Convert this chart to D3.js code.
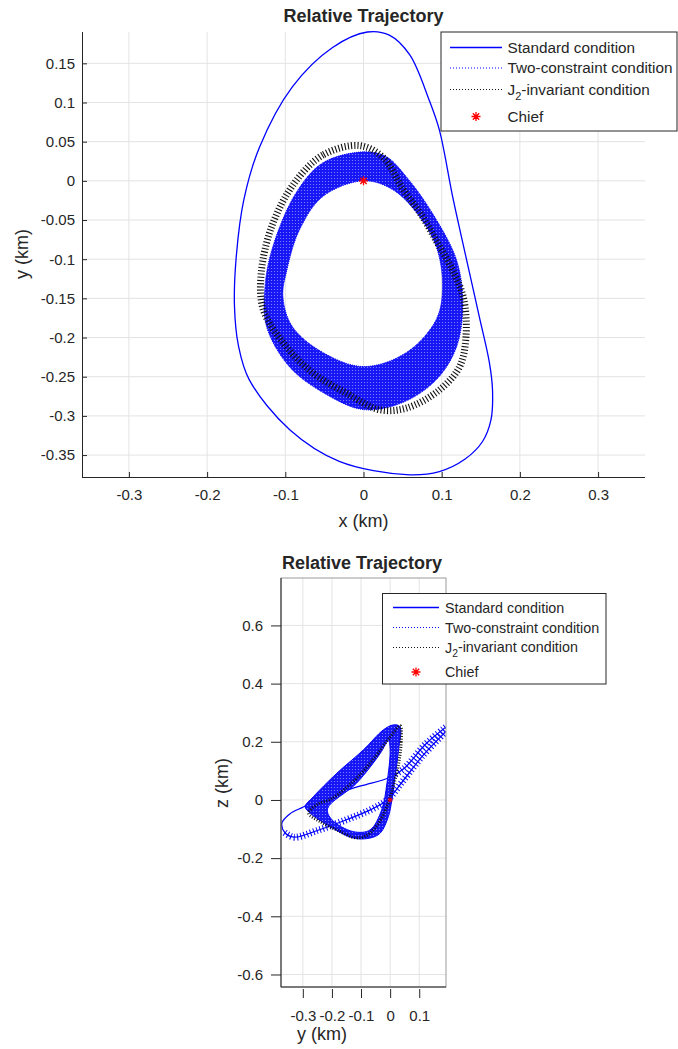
<!DOCTYPE html>
<html>

<head>
    <title>Relative Trajectory</title>
    <script src="https://cdn.jsdelivr.net/npm/d3@7"></script>
    <style>
        body { margin: 0; background: #fff; }
        text { font-family: 'Liberation Sans', Arial, sans-serif; fill: #262626; }
    </style>
</head>

<body>
    <svg width="678" height="1049" id="mainsvg"></svg>
    <script>
        // ---- data (km) ----
        const xTicks = [-0.3, -0.2, -0.1, 0, 0.1, 0.2, 0.3];
        const yTicks = [-0.35, -0.3, -0.25, -0.2, -0.15, -0.1, -0.05, 0, 0.05, 0.1, 0.15];
        const yTicksB = [-0.3, -0.2, -0.1, 0, 0.1];
        const zTicks = [-0.6, -0.4, -0.2, 0, 0.2, 0.4, 0.6];
        const legendLabels = ['Standard condition', 'Two-constraint condition', 'J2-invariant condition', 'Chief'];

        // x-y plane
        const standardXY = [[0.005, 0.19], [0.033, 0.186], [0.059, 0.161], [0.084, 0.103], [0.097, 0.065], [0.114, -0.02],
            [0.131, -0.097], [0.148, -0.173], [0.161, -0.232], [0.165, -0.267], [0.163, -0.305], [0.152, -0.333],
            [0.13, -0.355], [0.097, -0.371], [0.055, -0.375], [-0.031, -0.358], [-0.094, -0.318], [-0.146, -0.254],
            [-0.16, -0.21], [-0.165, -0.16], [-0.163, -0.1], [-0.153, -0.024], [-0.133, 0.043], [-0.091, 0.12],
            [-0.04, 0.17]];
        const twoConOuterXY = [[0, 0.037], [-0.052, 0.023], [-0.086, -0.015], [-0.116, -0.084], [-0.126, -0.135],
            [-0.124, -0.186], [-0.095, -0.237], [-0.052, -0.27], [0, -0.292], [0.05, -0.283], [0.093, -0.254],
            [0.119, -0.212], [0.127, -0.156], [0.119, -0.101], [0.088, -0.041], [0.055, 0.005], [0.029, 0.031]];
        const twoConInnerXY = [[0, 0], [-0.052, -0.02], [-0.082, -0.063], [-0.098, -0.114], [-0.103, -0.148],
            [-0.091, -0.186], [-0.052, -0.219], [0, -0.237], [0.055, -0.219], [0.093, -0.177], [0.101, -0.135],
            [0.093, -0.084], [0.068, -0.041], [0.037, -0.011]];
        const j2OuterXY = [[-0.005, 0.045], [-0.052, 0.033], [-0.09, -0.005], [-0.118, -0.06], [-0.131, -0.12],
            [-0.128, -0.165], [-0.1, -0.21], [-0.065, -0.245], [-0.02, -0.272], [0.02, -0.292], [0.055, -0.29],
            [0.097, -0.267], [0.123, -0.237], [0.131, -0.2], [0.128, -0.15], [0.112, -0.11], [0.095, -0.08],
            [0.075, -0.045], [0.05, -0.01], [0.025, 0.03]];

        // y-z plane
        const standardYZ = [[0.191, 0.25], [0.12, 0.19], [0.05, 0.11], [0.0, 0.078], [-0.1, 0.048], [-0.22, 0.012],
            [-0.3, -0.025], [-0.345, -0.048], [-0.372, -0.08], [-0.362, -0.112], [-0.33, -0.128], [-0.25, -0.105],
            [-0.15, -0.068], [-0.07, -0.035], [-0.01, 0.0], [0.04, 0.06], [0.11, 0.15], [0.191, 0.235]];
        const twoConOuterYZ = [[0.011, 0.258], [0.034, 0.252], [0.029, 0.172], [0.017, 0.08], [0.006, 0],
            [-0.006, -0.057], [-0.034, -0.114], [-0.069, -0.131], [-0.126, -0.131], [-0.206, -0.092],
            [-0.275, -0.045], [-0.292, -0.023], [-0.264, 0.011], [-0.183, 0.092], [-0.092, 0.172], [-0.023, 0.241]];
        const twoConInnerYZ = [[-0.006, 0.205], [0, 0.172], [-0.011, 0.057], [-0.029, -0.034], [-0.069, -0.103],
            [-0.126, -0.109], [-0.2, -0.068], [-0.215, -0.03], [-0.115, 0.058], [-0.034, 0.16]];
        const j2YZ = [[0.035, 0.255], [0.038, 0.2], [0.03, 0.13], [0.012, 0.05], [-0.01, -0.02], [-0.04, -0.08],
            [-0.08, -0.122], [-0.12, -0.13], [-0.18, -0.105], [-0.24, -0.075], [-0.28, -0.045], [-0.25, -0.015],
            [-0.2, 0.005], [-0.12, 0.07], [-0.05, 0.15], [-0.005, 0.21]];
        const chief = [0, 0];

        const svg = d3.select('svg');
        const BLUE = '#0000ff';
        const AX = '#262626';
        const GRID = '#e3e3e3';
        const TICKFS = 15;

        // asterisk like MATLAB '*'
        const star = (cx, cy, r) => {
            const d = r * 0.7071;
            return `M${cx - r},${cy}H${cx + r}M${cx},${cy - r}V${cy + r}` +
                `M${cx - d},${cy - d}L${cx + d},${cy + d}M${cx - d},${cy + d}L${cx + d},${cy - d}`;
        };

        const defs = svg.append('defs');
        const pat = defs.append('pattern').attr('id', 'weave').attr('patternUnits', 'userSpaceOnUse')
            .attr('width', 3).attr('height', 3);
        pat.append('rect').attr('width', 3).attr('height', 3).attr('fill', '#1616f6');
        pat.append('circle').attr('cx', 1.5).attr('cy', 1.5).attr('r', 0.6).attr('fill', '#fff').attr('opacity', 0.5);

        // ================= top plot: x-y =================
        const x = d3.scaleLinear().domain([-0.36, 0.36]).range([82, 645]);
        const y = d3.scaleLinear().domain([-0.378, 0.19]).range([477, 32]);

        defs.append('clipPath').attr('id', 'clipTop').append('rect')
            .attr('x', 82).attr('y', 30).attr('width', 563).attr('height', 447);

        const gTop = svg.append('g');
        gTop.selectAll('.gx').data(xTicks).join('line').attr('class', 'gx')
            .attr('x1', d => x(d)).attr('x2', d => x(d)).attr('y1', 32).attr('y2', 477)
            .attr('stroke', GRID);
        gTop.selectAll('.gy').data(yTicks).join('line').attr('class', 'gy')
            .attr('x1', 82).attr('x2', 645).attr('y1', d => y(d)).attr('y2', d => y(d))
            .attr('stroke', GRID);

        const lineXY = d3.line().x(d => x(d[0])).y(d => y(d[1])).curve(d3.curveCatmullRomClosed.alpha(0.5));
        const plotTop = gTop.append('g').attr('clip-path', 'url(#clipTop)');

        plotTop.append('path').attr('d', lineXY(standardXY)).attr('fill', 'none')
            .attr('stroke', BLUE).attr('stroke-width', 1.3);
        plotTop.append('path').attr('d', lineXY(twoConOuterXY) + lineXY(twoConInnerXY))
            .attr('fill', 'url(#weave)').attr('fill-rule', 'evenodd')
            .attr('stroke', BLUE).attr('stroke-width', 1).attr('stroke-dasharray', '1 1');
        plotTop.append('path').attr('d', lineXY(j2OuterXY)).attr('fill', 'none')
            .attr('stroke', '#111').attr('stroke-width', 7).attr('stroke-dasharray', '1.1 2.1');
        plotTop.append('path').attr('d', star(x(chief[0]), y(chief[1]), 4.5))
            .attr('stroke', 'red').attr('stroke-width', 1.3).attr('fill', 'none');

        const xAxis = d3.axisBottom(x).tickValues(xTicks).tickFormat(d => String(d))
            .tickSizeInner(-5).tickSizeOuter(0).tickPadding(12);
        const gx = gTop.append('g').attr('transform', 'translate(0,477)').call(xAxis);
        const yAxis = d3.axisLeft(y).tickValues(yTicks).tickFormat(d => String(d))
            .tickSizeInner(-5).tickSizeOuter(0).tickPadding(7);
        const gy = gTop.append('g').attr('transform', 'translate(82,0)').call(yAxis);
        gx.select('.domain').attr('d', 'M82,0.5H645');
        gy.select('.domain').attr('d', 'M0.5,32V477');
        [gx, gy].forEach(g => {
            g.selectAll('.domain, line').attr('stroke', AX);
            g.selectAll('text').attr('font-size', TICKFS).attr('fill', AX)
                .attr('font-family', "'Liberation Sans', Arial, sans-serif");
        });

        gTop.append('text').attr('x', 363.5).attr('y', 22).attr('text-anchor', 'middle')
            .attr('font-weight', 'bold').attr('font-size', 18).text('Relative Trajectory');
        gTop.append('text').attr('x', 363.5).attr('y', 527).attr('text-anchor', 'middle')
            .attr('font-size', 18).text('x (km)');
        gTop.append('text').attr('transform', 'translate(28,254) rotate(-90)').attr('text-anchor', 'middle')
            .attr('font-size', 18).text('y (km)');

        // ================= bottom plot: y-z =================
        const yb = d3.scaleLinear().domain([-0.375, 0.192]).range([281, 446]);
        const z = d3.scaleLinear().domain([-0.643, 0.763]).range([987, 578]);

        defs.append('clipPath').attr('id', 'clipBot').append('rect')
            .attr('x', 281).attr('y', 578).attr('width', 165).attr('height', 409);

        const gBot = svg.append('g');
        gBot.selectAll('.gx').data(yTicksB).join('line').attr('class', 'gx')
            .attr('x1', d => yb(d)).attr('x2', d => yb(d)).attr('y1', 578).attr('y2', 987)
            .attr('stroke', GRID);
        gBot.selectAll('.gy').data(zTicks).join('line').attr('class', 'gy')
            .attr('x1', 281).attr('x2', 446).attr('y1', d => z(d)).attr('y2', d => z(d))
            .attr('stroke', GRID);

        const lineYZc = d3.line().x(d => yb(d[0])).y(d => z(d[1])).curve(d3.curveCatmullRomClosed.alpha(0.5));
        const lineYZ = d3.line().x(d => yb(d[0])).y(d => z(d[1])).curve(d3.curveCatmullRom.alpha(0.5));
        const plotBot = gBot.append('g').attr('clip-path', 'url(#clipBot)');

        plotBot.append('path').attr('d', lineYZ(standardYZ)).attr('fill', 'none')
            .attr('stroke', BLUE).attr('stroke-width', 1.3);
        // sampled marks along the lower run and the upper-right run of the standard orbit
        [standardYZ.slice(9), standardYZ.slice(0, 4)].forEach(seg => {
            plotBot.append('path').attr('d', lineYZ(seg)).attr('fill', 'none')
                .attr('stroke', BLUE).attr('stroke-width', 7).attr('stroke-dasharray', '1 2.4');
        });
        plotBot.append('path').attr('d', lineYZc(twoConOuterYZ) + lineYZc(twoConInnerYZ))
            .attr('fill', 'url(#weave)').attr('fill-rule', 'evenodd')
            .attr('stroke', BLUE).attr('stroke-width', 1);
        plotBot.append('path').attr('d', lineYZc(j2YZ)).attr('fill', 'none')
            .attr('stroke', '#111').attr('stroke-width', 3).attr('stroke-dasharray', '1 1.6');
        plotBot.append('path').attr('d', star(yb(chief[0]), z(chief[1]), 2.5))
            .attr('stroke', 'red').attr('stroke-width', 1).attr('fill', 'none');

        gBot.append('rect').attr('x', 281).attr('y', 578).attr('width', 165).attr('height', 409)
            .attr('fill', 'none').attr('stroke', '#9a9a9a').attr('stroke-width', 1);
        gBot.append('line').attr('x1', 281).attr('x2', 281).attr('y1', 578).attr('y2', 987).attr('stroke', AX);
        gBot.append('line').attr('x1', 281).attr('x2', 446).attr('y1', 987).attr('y2', 987).attr('stroke', AX);

        const ybAxis = d3.axisBottom(yb).tickValues(yTicksB).tickFormat(d => String(d))
            .tickSizeInner(9).tickSizeOuter(0).tickPadding(12);
        const gyb = gBot.append('g').attr('transform', 'translate(0,989)').call(ybAxis);
        const zAxis = d3.axisLeft(z).tickValues(zTicks).tickFormat(d => String(d))
            .tickSizeInner(10).tickSizeOuter(0).tickPadding(8);
        const gz = gBot.append('g').attr('transform', 'translate(281,0)').call(zAxis);
        [gyb, gz].forEach(g => {
            g.select('.domain').remove();
            g.selectAll('line').attr('stroke', AX);
            g.selectAll('text').attr('font-size', TICKFS).attr('fill', AX)
                .attr('font-family', "'Liberation Sans', Arial, sans-serif");
        });

        gBot.append('text').attr('x', 362).attr('y', 569).attr('text-anchor', 'middle')
            .attr('font-weight', 'bold').attr('font-size', 18).text('Relative Trajectory');
        gBot.append('text').attr('x', 322).attr('y', 1040).attr('text-anchor', 'middle')
            .attr('font-size', 18).text('y (km)');
        gBot.append('text').attr('transform', 'translate(228,783) rotate(-90)').attr('text-anchor', 'middle')
            .attr('font-size', 18).text('z (km)');

        // ================= legends =================
        const legend = (g, bx, by, bw, bh, rows, lx0, lx1, tx, fs) => {
            g.append('rect').attr('x', bx).attr('y', by).attr('width', bw).attr('height', bh)
                .attr('fill', '#fff').attr('stroke', AX).attr('stroke-width', 1);
            const styles = [
                { stroke: BLUE, dash: null },
                { stroke: BLUE, dash: '1 2' },
                { stroke: '#111', dash: '1 2' }
            ];
            styles.forEach((s, i) => {
                g.append('line').attr('x1', lx0).attr('x2', lx1).attr('y1', rows[i]).attr('y2', rows[i])
                    .attr('stroke', s.stroke).attr('stroke-width', s.dash ? 1 : 1.3)
                    .attr('stroke-dasharray', s.dash);
            });
            g.append('path').attr('d', star((lx0 + lx1) / 2, rows[3], 4.5))
                .attr('stroke', 'red').attr('stroke-width', 1.3).attr('fill', 'none');
            legendLabels.forEach((lab, i) => {
                const t = g.append('text').attr('x', tx).attr('y', rows[i]).attr('dy', '0.35em')
                    .attr('font-size', fs);
                if (lab.startsWith('J2')) {
                    t.append('tspan').text('J');
                    t.append('tspan').attr('font-size', fs * 0.72).attr('dy', '0.45em').text('2');
                    t.append('tspan').attr('dy', '-0.33em').text(lab.slice(2));
                } else {
                    t.text(lab);
                }
            });
        };
        legend(svg.append('g'), 441, 32, 236, 99, [47.5, 68, 89.5, 116.5], 450, 502, 507.5, 15.3);
        legend(svg.append('g'), 382.5, 593.5, 223.5, 90.5, [607.5, 627.5, 647.5, 672], 393, 439, 445, 14.3);
    </script>
</body>

</html>
